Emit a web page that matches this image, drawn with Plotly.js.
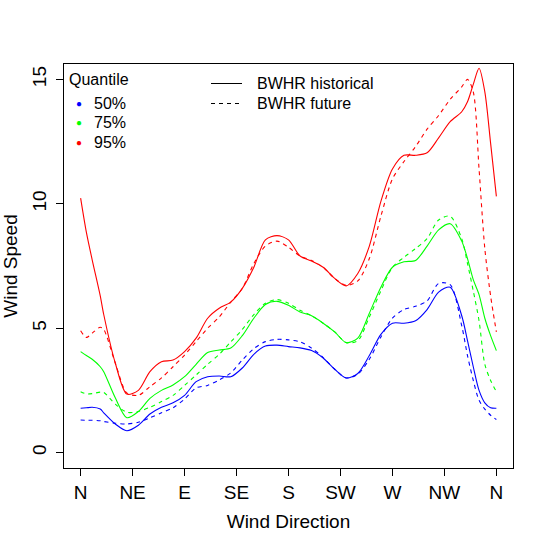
<!DOCTYPE html>
<html>
<head>
<meta charset="utf-8">
<script src="https://cdn.plot.ly/plotly-3.0.1.min.js"></script>
<style>html,body{margin:0;padding:0;background:#fff;}#chart{width:548px;height:548px;}</style>
</head>
<body>
<div id="chart"></div>
<script>
// Wind direction (degrees)
const direction = [0,5,10,17,20,30,40,50,60,70,80,90,100,110,120,130,140,150,160,170,180,190,200,210,220,230,240,250,260,270,280,290,300,310,320,330,335,340,345,350,355,360];
const tickDeg = [0,45,90,135,180,225,270,315,360];
const tickLabels = ["N","NE","E","SE","S","SW","W","NW","N"];

// 50% quantile
const q50Hist = [1.78,1.8,1.82,1.75,1.6,1.15,0.88,1.1,1.55,1.82,2.0,2.3,2.85,3.05,3.08,3.05,3.4,3.95,4.28,4.32,4.26,4.21,4.1,3.8,3.35,3.0,3.18,3.9,4.75,5.2,5.2,5.3,5.75,6.45,6.65,5.5,4.5,3.45,2.5,2.0,1.8,1.78];
const q50Fut  = [1.31,1.3,1.3,1.28,1.25,1.18,1.15,1.22,1.4,1.6,1.8,2.15,2.6,2.7,2.92,3.2,3.72,4.18,4.46,4.55,4.53,4.45,4.2,3.82,3.35,3.0,3.15,3.75,4.65,5.4,5.75,5.88,6.1,6.8,6.75,5.1,3.9,2.9,2.1,1.75,1.5,1.33];
// 75% quantile
const q75Hist = [4.06,3.9,3.75,3.45,3.25,2.2,1.4,1.65,2.18,2.5,2.72,3.05,3.55,4.02,4.12,4.2,4.7,5.4,5.95,6.08,5.92,5.65,5.5,5.2,4.85,4.42,4.6,5.6,6.65,7.45,7.67,7.72,8.3,8.95,9.2,8.5,7.8,6.95,6.35,5.4,4.7,4.1];
const q75Fut  = [2.45,2.36,2.37,2.43,2.42,1.95,1.62,1.65,1.82,2.05,2.3,2.7,3.12,3.55,3.95,4.45,4.95,5.55,6.0,6.15,6.0,5.72,5.5,5.2,4.85,4.42,4.5,5.45,6.5,7.45,7.85,8.2,8.6,9.35,9.5,8.6,7.6,6.5,5.3,3.55,2.9,2.45];
// 95% quantile
const q95Hist = [10.23,8.85,7.75,6.3,5.55,3.6,2.35,2.5,3.25,3.65,3.72,4.06,4.6,5.4,5.8,6.05,6.6,7.45,8.55,8.72,8.55,7.9,7.7,7.45,7.0,6.7,7.2,8.3,10.1,11.4,11.95,11.95,12.05,12.65,13.3,13.7,14.1,14.8,15.45,14.5,12.44,10.3];
const q95Fut  = [4.9,4.63,4.8,5.04,4.95,3.6,2.4,2.3,2.65,3.0,3.45,3.92,4.46,5.0,5.45,6.05,6.6,7.6,8.3,8.5,8.25,7.9,7.72,7.45,7.0,6.72,6.9,7.8,9.5,11.0,11.7,12.3,13.0,13.55,14.2,14.7,15.0,14.5,11.4,8.2,6.3,4.85];

const quantileNames = ["50%","75%","95%"];
const quantileColors = ["#0000FF","#00FF00","#FF0000"];
const periodNames = ["BWHR historical","BWHR future"];

const series = [
  {y:q50Hist,c:0,d:0},{y:q50Fut,c:0,d:1},
  {y:q75Hist,c:1,d:0},{y:q75Fut,c:1,d:1},
  {y:q95Hist,c:2,d:0},{y:q95Fut,c:2,d:1}
];
const traces = series.map(s => ({
  x: direction, y: s.y, type: "scatter", mode: "lines",
  name: quantileNames[s.c] + " " + periodNames[s.d],
  line: {color: quantileColors[s.c], width: 1.1, shape: "spline", smoothing: 0.8, dash: s.d ? "4px,4px" : "solid"},
  showlegend: false, hoverinfo: "skip"
}));

// pixel -> paper helpers for the legend decorations
const L=64, R=513, T=64, B=468;
const px = v => (v - L) / (R - L);
const py = v => (B - v) / (B - T);
const font = "Liberation Sans, Arial, Helvetica, sans-serif";

const annotations = [];
const shapes = [];
annotations.push({text:"Quantile", xref:"paper", yref:"paper", x:px(67), y:py(79), xanchor:"left", yanchor:"middle", showarrow:false, font:{size:16, color:"#000", family:font}});
quantileNames.forEach((n,i) => {
  const yy = 103 + i*19.7;
  annotations.push({text:"●", xref:"paper", yref:"paper", x:px(79), y:py(yy), xanchor:"center", yanchor:"middle", showarrow:false, font:{size:10, color:quantileColors[i], family:font}});
  annotations.push({text:n, xref:"paper", yref:"paper", x:px(92), y:py(yy), xanchor:"left", yanchor:"middle", showarrow:false, font:{size:16, color:"#000", family:font}});
});
periodNames.forEach((n,i) => {
  const yy = 83.5 + i*20;
  shapes.push({type:"line", xref:"paper", yref:"paper", x0:px(211), x1:px(242), y0:py(yy), y1:py(yy), line:{color:"#000", width:1, dash: i ? "4px,4px" : "solid"}});
  annotations.push({text:n, xref:"paper", yref:"paper", x:px(255), y:py(yy), xanchor:"left", yanchor:"middle", showarrow:false, font:{size:16, color:"#000", family:font}});
});

const layout = {
  width: 548, height: 548,
  margin: {l: L, r: 548 - R, t: T, b: 548 - B, pad: 0},
  paper_bgcolor: "#fff", plot_bgcolor: "#fff",
  font: {family: font, size: 19, color: "#000"},
  showlegend: false,
  xaxis: {
    range: [-14.4, 374.4], tickmode: "array", tickvals: tickDeg, ticktext: tickLabels,
    showgrid: false, zeroline: false, showline: true, mirror: true, linecolor: "#000", linewidth: 1,
    ticks: "outside", ticklen: 7, tickwidth: 1, tickcolor: "#000",
    tickfont: {size: 19, family: font},
    title: {text: "Wind Direction", font: {size: 19, family: font}, standoff: 12}
  },
  yaxis: {
    range: [-0.62, 15.62], tickmode: "array", tickvals: [0,5,10,15],
    showgrid: false, zeroline: false, showline: true, mirror: true, linecolor: "#000", linewidth: 1,
    ticks: "outside", ticklen: 7, tickwidth: 1, tickcolor: "#000", tickangle: -90,
    tickfont: {size: 19, family: font}, ticklabelstandoff: 2,
    title: {text: "Wind Speed", font: {size: 19, family: font}, standoff: 14}
  },
  annotations: annotations,
  shapes: shapes
};

Plotly.newPlot("chart", traces, layout, {staticPlot: true, displayModeBar: false});
</script>
</body>
</html>
